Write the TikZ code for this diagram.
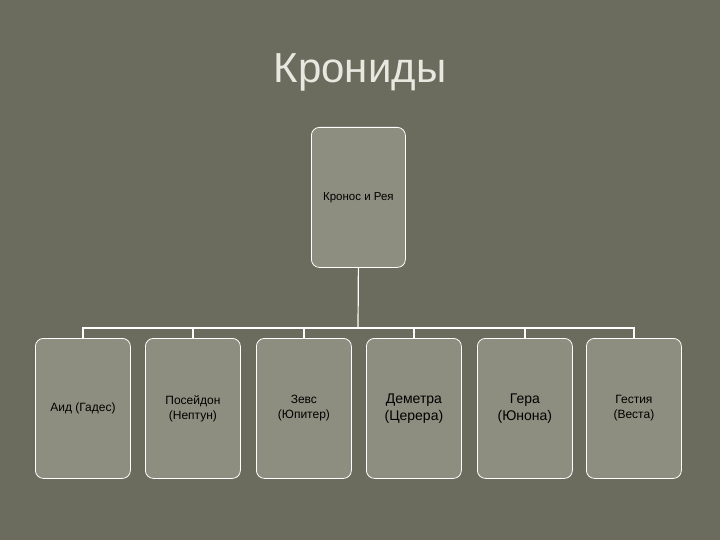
\documentclass[tikz,border=0pt]{standalone}
\usepackage{fontspec}
\setmainfont{Liberation Sans}
\definecolor{bg}{HTML}{6B6B5E}
\definecolor{boxfill}{HTML}{8E8E80}
\definecolor{titlec}{HTML}{E8E8E0}
\begin{document}
\begin{tikzpicture}[x=1pt,y=-1pt,
  godbox/.style={draw=white,line width=0.8pt,fill=boxfill,rounded corners=8pt,minimum width=95pt,minimum height=140pt,anchor=north west,text=black,align=center,inner sep=2pt},
  link/.style={draw=white,line width=1.2pt}]
\fill[bg] (0,0) rectangle (720,540);
\useasboundingbox (0,0) rectangle (720,540);
\node[text=titlec,font=\fontsize{42}{46}\selectfont] (title) at (360,72) {Крониды};
\node[godbox,minimum width=94pt,font=\fontsize{11.5}{13}\selectfont] (root) at (311,127) {Кронос и Рея};
\node[godbox,font=\fontsize{12}{15}\selectfont] (c1) at (35,338) {Аид (Гадес)};
\node[godbox,font=\fontsize{12}{15}\selectfont] (c2) at (145,338) {Посейдон\\(Нептун)};
\node[godbox,font=\fontsize{12}{15}\selectfont] (c3) at (256,338) {Зевс\\(Юпитер)};
\node[godbox,font=\fontsize{14}{17}\selectfont] (c4) at (366,338) {Деметра\\(Церера)};
\node[godbox,font=\fontsize{14}{17}\selectfont] (c5) at (477,338) {Гера\\(Юнона)};
\node[godbox,font=\fontsize{12}{15}\selectfont] (c6) at (586,338) {Гестия\\(Веста)};
\coordinate (j) at (358,328);
\draw[link] (root.south) -- (j);
\foreach \c in {c1,c2,c3,c4,c5,c6}{
  \draw[link] (j) -| (\c.north);
}
\end{tikzpicture}
\end{document}
